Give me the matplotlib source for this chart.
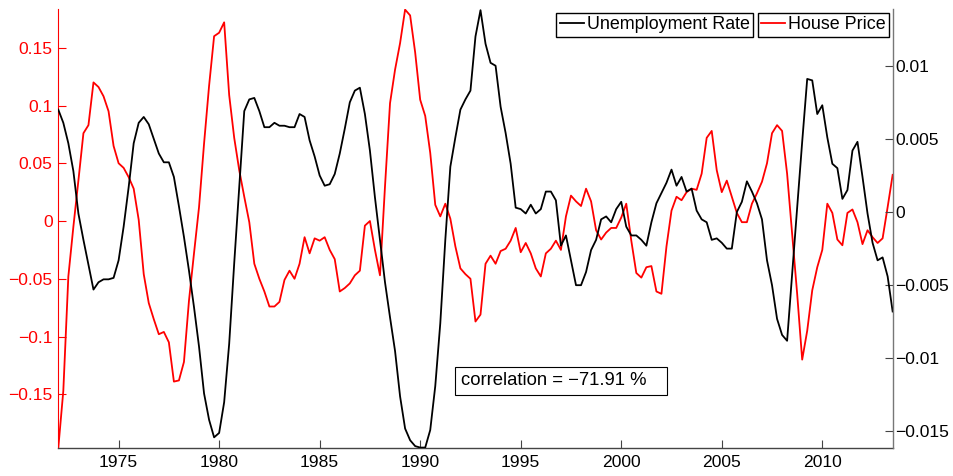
import numpy as np
import matplotlib
matplotlib.use("Agg")
import matplotlib.pyplot as plt

# ----------------------------
# Data (quarterly, 1972Q1 - 2013Q3)
# ----------------------------

start_year = 1972.0

house_price = [
    -0.1965, -0.147, -0.048, -0.005, 0.035, 0.076, 0.083, 0.120, 0.116, 0.108,
    0.095, 0.065, 0.050, 0.046, 0.038, 0.028, 0.001, -0.046, -0.071, -0.085,
    -0.098, -0.096, -0.105, -0.139, -0.138, -0.122, -0.069, -0.028, 0.012, 0.067,
    0.117, 0.160, 0.163, 0.172, 0.109, 0.072, 0.044, 0.021, -0.001, -0.037,
    -0.050, -0.061, -0.074, -0.074, -0.070, -0.051, -0.043, -0.050, -0.037, -0.014,
    -0.028, -0.015, -0.017, -0.014, -0.025, -0.033, -0.061, -0.058, -0.054, -0.047,
    -0.043, -0.004, 0.000, -0.025, -0.047, 0.030, 0.102, 0.131, 0.154, 0.183,
    0.178, 0.146, 0.105, 0.091, 0.059, 0.014, 0.004, 0.015, 0.002, -0.022,
    -0.041, -0.046, -0.050, -0.087, -0.081, -0.037, -0.030, -0.037, -0.026, -0.024,
    -0.017, -0.006, -0.027, -0.019, -0.028, -0.041, -0.048, -0.028, -0.024, -0.017,
    -0.025, 0.004, 0.022, 0.017, 0.013, 0.028, 0.017, -0.008, -0.016, -0.010,
    -0.006, -0.006, 0.003, 0.015, -0.017, -0.045, -0.049, -0.040, -0.039, -0.061,
    -0.063, -0.022, 0.009, 0.021, 0.018, 0.025, 0.028, 0.027, 0.041, 0.072,
    0.078, 0.044, 0.025, 0.035, 0.021, 0.007, -0.001, -0.001, 0.015, 0.024,
    0.034, 0.050, 0.076, 0.083, 0.078, 0.041, -0.011, -0.063, -0.120, -0.095,
    -0.060, -0.040, -0.025, 0.015, 0.007, -0.016, -0.021, 0.007, 0.010, -0.001,
    -0.020, -0.008, -0.014, -0.019, -0.015, 0.012, 0.040,
]

unemployment = [
    0.0070, 0.0061, 0.0047, 0.0028, -0.0001, -0.0019, -0.0036, -0.0053, -0.0048, -0.0046,
    -0.0046, -0.0045, -0.0033, -0.0010, 0.0017, 0.0047, 0.0061, 0.0065, 0.0060, 0.0050,
    0.0040, 0.0034, 0.0034, 0.0024, 0.0004, -0.0017, -0.0040, -0.0065, -0.0092, -0.0124,
    -0.0142, -0.0154, -0.0151, -0.0130, -0.0090, -0.0035, 0.0017, 0.0069, 0.0077, 0.0078,
    0.0069, 0.0058, 0.0058, 0.0061, 0.0059, 0.0059, 0.0058, 0.0058, 0.0067, 0.0065,
    0.0049, 0.0038, 0.0025, 0.0018, 0.0019, 0.0026, 0.0040, 0.0057, 0.0075, 0.0083,
    0.0085, 0.0067, 0.0042, 0.0010, -0.0019, -0.0048, -0.0072, -0.0095, -0.0126, -0.0148,
    -0.0156, -0.0160, -0.0161, -0.0161, -0.0149, -0.0119, -0.0076, -0.0019, 0.0031, 0.0051,
    0.0070, 0.0077, 0.0083, 0.0120, 0.0138, 0.0115, 0.0102, 0.0100, 0.0072, 0.0054,
    0.0033, 0.0003, 0.0002, -0.0001, 0.0005, -0.0001, 0.0002, 0.0014, 0.0014, 0.0008,
    -0.0023, -0.0016, -0.0033, -0.0050, -0.0050, -0.0041, -0.0026, -0.0019, -0.0005, -0.0003,
    -0.0007, 0.0002, 0.0007, -0.0010, -0.0016, -0.0016, -0.0019, -0.0023, -0.0007, 0.0006,
    0.0013, 0.0020, 0.0029, 0.0018, 0.0024, 0.0014, 0.0016, 0.0001, -0.0005, -0.0007,
    -0.0019, -0.0018, -0.0021, -0.0025, -0.0025, 0.0000, 0.0007, 0.0021, 0.0014, 0.0006,
    -0.0005, -0.0033, -0.0050, -0.0073, -0.0084, -0.0088, -0.0042, 0.0003, 0.0048, 0.0091,
    0.0090, 0.0067, 0.0073, 0.0051, 0.0033, 0.0030, 0.0009, 0.0015, 0.0042, 0.0048,
    0.0024, -0.0001, -0.0021, -0.0033, -0.0031, -0.0044, -0.0068,
]

years = start_year + 0.25 * np.arange(len(house_price))

x_ticks = [1975, 1980, 1985, 1990, 1995, 2000, 2005, 2010]
left_ticks = [0.15, 0.1, 0.05, 0, -0.05, -0.1, -0.15]
left_labels = ["0.15", "0.1", "0.05", "0", "\u22120.05", "\u22120.1", "\u22120.15"]
right_ticks = [0.01, 0.005, 0, -0.005, -0.01, -0.015]
right_labels = ["0.01", "0.005", "0", "\u22120.005", "\u22120.01", "\u22120.015"]

corr_text = "correlation = \u221271.91 %"

# ----------------------------
# Plot
# ----------------------------

plt.rcParams["font.family"] = ["Liberation Sans", "DejaVu Sans"]
plt.rcParams["font.size"] = 12.6

fig = plt.figure(figsize=(9.54, 4.76), dpi=100)
ax1 = fig.add_axes([0.0611, 0.0588, 0.8746, 0.9217])
ax2 = ax1.twinx()

line_hp, = ax1.plot(years, house_price, color="red", lw=1.3, label="House Price")
line_ue, = ax2.plot(years, unemployment, color="black", lw=1.3, label="Unemployment Rate")

ax1.set_xlim(1972.0, 2013.5)
ax1.set_ylim(-0.1965, 0.1833)
ax2.set_ylim(-0.01613, 0.01386)

ax1.set_xticks(x_ticks)
ax1.set_yticks(left_ticks)
ax1.set_yticklabels(left_labels)
ax2.set_yticks(right_ticks)
ax2.set_yticklabels(right_labels)

ax1.tick_params(axis="y", colors="red", direction="in", length=6, width=0.8, pad=4)
ax1.tick_params(axis="x", colors="#444444", labelcolor="black", direction="in", length=6, width=0.8, pad=5)
ax2.tick_params(axis="y", colors="#444444", labelcolor="black", direction="in", length=6, width=0.8, pad=2)

for ax in (ax1, ax2):
    ax.spines["top"].set_visible(False)
ax1.spines["right"].set_visible(False)
ax2.spines["left"].set_visible(False)
ax2.spines["bottom"].set_visible(False)
ax1.spines["left"].set_color("red")
ax1.spines["bottom"].set_color("#444444")
ax2.spines["right"].set_color("#777777")
ax1.spines["left"].set_linewidth(0.8)
ax1.spines["bottom"].set_linewidth(1.0)
ax2.spines["right"].set_linewidth(1.0)

# two separate legends, one per axis
leg_kw = dict(frameon=True, fancybox=False, edgecolor="black", framealpha=1,
              handlelength=1.35, handletextpad=0.15, borderpad=0.2,
              borderaxespad=0, fontsize=12.9)
leg1 = ax2.legend(handles=[line_ue], loc="upper right",
                  bbox_to_anchor=(0.8329, 0.9922), **leg_kw)
leg2 = ax2.legend(handles=[line_hp], loc="upper right",
                  bbox_to_anchor=(0.9959, 0.9922), **leg_kw)
ax2.add_artist(leg1)
for leg in (leg1, leg2):
    leg.get_frame().set_linewidth(1.0)

ax2.text(0.4822, 0.153, corr_text + "   ", transform=ax2.transAxes,
         va="center", ha="left", fontsize=13.3,
         bbox=dict(boxstyle="square,pad=0.28", facecolor="white", edgecolor="black", linewidth=0.8))

plt.savefig("out.png", dpi=100)
plt.close()
